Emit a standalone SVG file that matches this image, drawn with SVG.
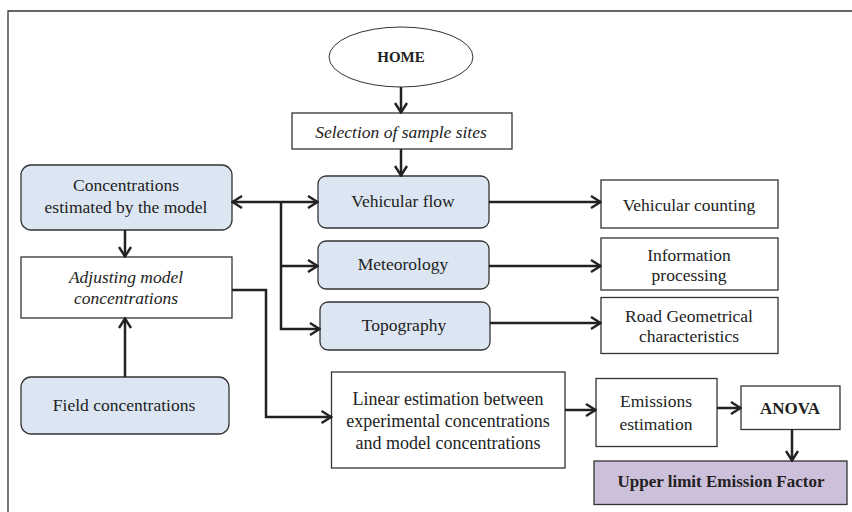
<svg xmlns="http://www.w3.org/2000/svg" width="852" height="512" viewBox="0 0 852 512">
<defs>
<style>
.t{font-family:"Liberation Serif","Times New Roman",serif;font-size:17.5px;fill:#222;text-anchor:middle}
.i{font-style:italic}
.b{font-weight:bold}
.blue{fill:#dce6f2;stroke:#333;stroke-width:1.3}
.box{fill:#fff;stroke:#333;stroke-width:1.3}
.c{fill:none;stroke:#222;stroke-width:2.5}
</style>
<marker id="ah" viewBox="0 0 12 14" refX="11" refY="7" markerWidth="12" markerHeight="14" markerUnits="userSpaceOnUse" orient="auto-start-reverse">
<path d="M1,1 L10.5,7 L1,13" fill="none" stroke="#222" stroke-width="2.4"/>
</marker>
</defs>
<rect width="852" height="512" fill="#fff"/>
<path d="M8,512 V11 H852" fill="none" stroke="#333" stroke-width="1.3"/>

<g id="home"><ellipse cx="401" cy="57" rx="72" ry="30" fill="#fff" stroke="#333" stroke-width="1"/><text class="t b" x="401" y="62" style="font-size:15px">HOME</text></g>
<g id="selection"><rect class="box" x="292" y="113" width="220" height="36"/><text class="t i" x="401" y="137.5">Selection of sample sites</text></g>
<g id="concentrations"><rect class="blue" x="21" y="165" width="211" height="65" rx="10"/><text class="t" x="126" y="190.5">Concentrations</text><text class="t" x="126" y="213">estimated by the model</text></g>
<g id="adjusting"><rect class="box" x="21" y="257" width="211" height="61"/><text class="t i" x="126" y="282.5">Adjusting model</text><text class="t i" x="126" y="303.5">concentrations</text></g>
<g id="field"><rect class="blue" x="21" y="377" width="208" height="57" rx="10"/><text class="t" x="124" y="410.5">Field concentrations</text></g>
<g id="vehicular-flow"><rect class="blue" x="318" y="176" width="171" height="52" rx="8"/><text class="t" x="403" y="207">Vehicular flow</text></g>
<g id="meteorology"><rect class="blue" x="318" y="241" width="171" height="48" rx="8"/><text class="t" x="403" y="270">Meteorology</text></g>
<g id="topography"><rect class="blue" x="320" y="302" width="170" height="48" rx="8"/><text class="t" x="404" y="330.5">Topography</text></g>
<g id="vehicular-counting"><rect class="box" x="601" y="180" width="177" height="48"/><text class="t" x="689" y="211">Vehicular counting</text></g>
<g id="information"><rect class="box" x="601" y="238" width="177" height="52"/><text class="t" x="689" y="261">Information</text><text class="t" x="689" y="281">processing</text></g>
<g id="road"><rect class="box" x="601" y="297.5" width="177" height="56"/><text class="t" x="689" y="322">Road Geometrical</text><text class="t" x="689" y="342">characteristics</text></g>
<g id="linear"><rect class="box" x="331.5" y="372" width="233.5" height="96"/><text class="t" x="448" y="405" style="font-size:18px">Linear estimation between</text><text class="t" x="448" y="427" style="font-size:18px">experimental concentrations</text><text class="t" x="448" y="448.5" style="font-size:18px">and model concentrations</text></g>
<g id="emissions"><rect class="box" x="596" y="378.5" width="121" height="68"/><text class="t" x="656" y="407">Emissions</text><text class="t" x="656" y="430">estimation</text></g>
<g id="anova"><rect class="box" x="741" y="386" width="99" height="43.5"/><text class="t b" x="790" y="414" style="font-size:17px">ANOVA</text></g>
<g id="upper"><rect x="594" y="461" width="253" height="43.5" fill="#ccc0da" stroke="#333" stroke-width="1.3"/><text class="t b" x="721" y="487" style="font-size:17px">Upper limit Emission Factor</text></g>

<g id="connectors">
<path class="c" d="M401,87 V113" marker-end="url(#ah)"/>
<path class="c" d="M401,149 V176" marker-end="url(#ah)"/>
<path class="c" d="M232,202 H318" marker-start="url(#ah)" marker-end="url(#ah)"/>
<path class="c" d="M281,202 V329 H320" marker-end="url(#ah)"/>
<path class="c" d="M281,266 H318" marker-end="url(#ah)"/>
<path class="c" d="M489,202 H601" marker-end="url(#ah)"/>
<path class="c" d="M489,266 H601" marker-end="url(#ah)"/>
<path class="c" d="M490,323 H601" marker-end="url(#ah)"/>
<path class="c" d="M125,230 V257" marker-end="url(#ah)"/>
<path class="c" d="M125,377 V318" marker-end="url(#ah)"/>
<path class="c" d="M232,290 H266 V417 H331.5" marker-end="url(#ah)"/>
<path class="c" d="M565,410 H596" marker-end="url(#ah)"/>
<path class="c" d="M717,408 H741" marker-end="url(#ah)"/>
<path class="c" d="M792,429.5 V461" marker-end="url(#ah)"/>
</g>
</svg>
